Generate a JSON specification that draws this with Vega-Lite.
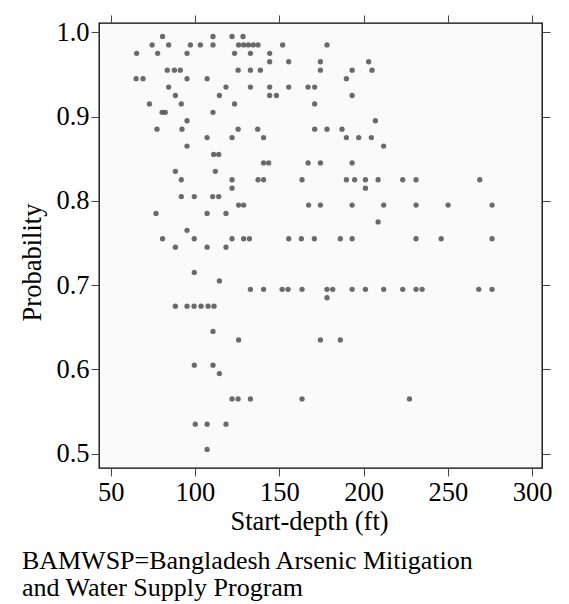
{
  "$schema": "https://vega.github.io/schema/vega-lite/v6.json",
  "width": 443,
  "height": 445,
  "padding": {"left": 19, "top": 14, "right": 10, "bottom": 3},
  "background": "white",
  "title": {
    "text": ["BAMWSP=Bangladesh Arsenic Mitigation", "and Water Supply Program"],
    "orient": "bottom",
    "anchor": "start",
    "frame": "bounds",
    "dx": 2,
    "font": "Liberation Serif",
    "fontSize": 26,
    "fontWeight": "normal",
    "color": "#000",
    "lineHeight": 27,
    "offset": 13
  },
  "data": {
    "values": [
      {"d": 80.8, "p": 0.995}, {"d": 110.7, "p": 0.995}, {"d": 122.0, "p": 0.995}, {"d": 128.5, "p": 0.995},
      {"d": 74.6, "p": 0.985}, {"d": 84.4, "p": 0.985}, {"d": 97.3, "p": 0.985}, {"d": 103.2, "p": 0.985}, {"d": 110.7, "p": 0.985}, {"d": 125.9, "p": 0.985}, {"d": 128.9, "p": 0.985}, {"d": 131.7, "p": 0.985}, {"d": 134.6, "p": 0.985}, {"d": 137.4, "p": 0.985}, {"d": 152.0, "p": 0.985}, {"d": 178.3, "p": 0.985},
      {"d": 65.4, "p": 0.975}, {"d": 77.9, "p": 0.975}, {"d": 95.3, "p": 0.975}, {"d": 123.5, "p": 0.975}, {"d": 132.9, "p": 0.975}, {"d": 144.3, "p": 0.975},
      {"d": 144.3, "p": 0.965}, {"d": 155.6, "p": 0.965}, {"d": 174.4, "p": 0.965}, {"d": 203.0, "p": 0.965},
      {"d": 83.6, "p": 0.955}, {"d": 87.8, "p": 0.955}, {"d": 91.3, "p": 0.955}, {"d": 125.6, "p": 0.955}, {"d": 132.9, "p": 0.955}, {"d": 138.8, "p": 0.955}, {"d": 174.4, "p": 0.955}, {"d": 193.2, "p": 0.955}, {"d": 205.0, "p": 0.955},
      {"d": 65.1, "p": 0.945}, {"d": 69.2, "p": 0.945}, {"d": 95.3, "p": 0.945}, {"d": 107.2, "p": 0.945}, {"d": 189.8, "p": 0.945},
      {"d": 84.4, "p": 0.935}, {"d": 118.4, "p": 0.935}, {"d": 132.9, "p": 0.935}, {"d": 144.3, "p": 0.935}, {"d": 155.6, "p": 0.935}, {"d": 167.1, "p": 0.935}, {"d": 171.0, "p": 0.935},
      {"d": 88.4, "p": 0.925}, {"d": 114.5, "p": 0.925}, {"d": 144.3, "p": 0.925}, {"d": 148.3, "p": 0.925}, {"d": 193.2, "p": 0.925},
      {"d": 73.0, "p": 0.915}, {"d": 91.9, "p": 0.915}, {"d": 123.5, "p": 0.915}, {"d": 171.0, "p": 0.915},
      {"d": 80.5, "p": 0.905}, {"d": 82.4, "p": 0.905}, {"d": 110.7, "p": 0.905},
      {"d": 95.3, "p": 0.895}, {"d": 207.0, "p": 0.895},
      {"d": 77.5, "p": 0.885}, {"d": 92.3, "p": 0.885}, {"d": 125.6, "p": 0.885}, {"d": 137.2, "p": 0.885}, {"d": 171.0, "p": 0.885}, {"d": 178.3, "p": 0.885}, {"d": 187.2, "p": 0.885},
      {"d": 107.2, "p": 0.875}, {"d": 122.0, "p": 0.875}, {"d": 140.7, "p": 0.875}, {"d": 189.8, "p": 0.875}, {"d": 197.1, "p": 0.875}, {"d": 204.6, "p": 0.875},
      {"d": 95.3, "p": 0.865}, {"d": 211.9, "p": 0.865},
      {"d": 111.1, "p": 0.855}, {"d": 114.1, "p": 0.855},
      {"d": 140.7, "p": 0.845}, {"d": 143.7, "p": 0.845}, {"d": 167.1, "p": 0.845}, {"d": 174.4, "p": 0.845}, {"d": 193.2, "p": 0.845},
      {"d": 88.4, "p": 0.835}, {"d": 112.1, "p": 0.835},
      {"d": 91.9, "p": 0.825}, {"d": 122.0, "p": 0.825}, {"d": 137.4, "p": 0.825}, {"d": 140.7, "p": 0.825}, {"d": 163.5, "p": 0.825}, {"d": 189.8, "p": 0.825}, {"d": 194.7, "p": 0.825}, {"d": 201.1, "p": 0.825}, {"d": 208.6, "p": 0.825}, {"d": 223.2, "p": 0.825}, {"d": 231.1, "p": 0.825}, {"d": 268.9, "p": 0.825},
      {"d": 122.0, "p": 0.815}, {"d": 201.1, "p": 0.815},
      {"d": 91.9, "p": 0.805}, {"d": 99.6, "p": 0.805}, {"d": 110.5, "p": 0.805}, {"d": 114.1, "p": 0.805},
      {"d": 125.9, "p": 0.795}, {"d": 128.9, "p": 0.795}, {"d": 167.4, "p": 0.795}, {"d": 174.4, "p": 0.795}, {"d": 193.2, "p": 0.795}, {"d": 211.9, "p": 0.795}, {"d": 231.1, "p": 0.795}, {"d": 250.1, "p": 0.795}, {"d": 276.2, "p": 0.795},
      {"d": 76.9, "p": 0.785}, {"d": 107.2, "p": 0.785}, {"d": 118.4, "p": 0.785},
      {"d": 208.6, "p": 0.775},
      {"d": 95.3, "p": 0.765},
      {"d": 80.8, "p": 0.755}, {"d": 99.6, "p": 0.755}, {"d": 122.0, "p": 0.755}, {"d": 128.9, "p": 0.755}, {"d": 132.3, "p": 0.755}, {"d": 155.6, "p": 0.755}, {"d": 163.1, "p": 0.755}, {"d": 170.8, "p": 0.755}, {"d": 186.2, "p": 0.755}, {"d": 193.2, "p": 0.755}, {"d": 231.1, "p": 0.755}, {"d": 246.0, "p": 0.755}, {"d": 276.2, "p": 0.755},
      {"d": 88.4, "p": 0.745}, {"d": 107.2, "p": 0.745}, {"d": 118.4, "p": 0.745},
      {"d": 99.6, "p": 0.715},
      {"d": 114.5, "p": 0.705},
      {"d": 132.9, "p": 0.695}, {"d": 140.7, "p": 0.695}, {"d": 151.7, "p": 0.695}, {"d": 155.2, "p": 0.695}, {"d": 163.5, "p": 0.695}, {"d": 178.3, "p": 0.695}, {"d": 181.7, "p": 0.695}, {"d": 193.2, "p": 0.695}, {"d": 201.1, "p": 0.695}, {"d": 211.9, "p": 0.695}, {"d": 223.2, "p": 0.695}, {"d": 231.1, "p": 0.695}, {"d": 234.7, "p": 0.695}, {"d": 268.3, "p": 0.695}, {"d": 276.2, "p": 0.695},
      {"d": 178.3, "p": 0.685},
      {"d": 88.4, "p": 0.675}, {"d": 95.3, "p": 0.675}, {"d": 99.5, "p": 0.675}, {"d": 103.6, "p": 0.675}, {"d": 107.8, "p": 0.675}, {"d": 111.3, "p": 0.675},
      {"d": 110.7, "p": 0.645},
      {"d": 125.9, "p": 0.635}, {"d": 174.4, "p": 0.635}, {"d": 186.2, "p": 0.635},
      {"d": 99.6, "p": 0.605}, {"d": 110.7, "p": 0.605},
      {"d": 114.5, "p": 0.595},
      {"d": 122.0, "p": 0.565}, {"d": 125.6, "p": 0.565}, {"d": 132.9, "p": 0.565}, {"d": 163.5, "p": 0.565}, {"d": 227.2, "p": 0.565},
      {"d": 100.2, "p": 0.535}, {"d": 107.2, "p": 0.535}, {"d": 118.4, "p": 0.535},
      {"d": 107.2, "p": 0.505}
    ]
  },
  "layer": [
    {
      "mark": {"type": "circle", "size": 28, "color": "#505050", "opacity": 0.85},
      "encoding": {
        "x": {
          "field": "d", "type": "quantitative",
          "scale": {"domain": [43.1, 305.8], "nice": false, "zero": false},
          "axis": {"orient": "bottom", "title": "Start-depth (ft)", "values": [50, 100, 150, 200, 250, 300], "labelPadding": 3, "titlePadding": 3, "titleX": 210, "titleAlign": "center"}
        },
        "y": {
          "field": "p", "type": "quantitative",
          "scale": {"domain": [0.483, 1.011], "nice": false, "zero": false},
          "axis": {"orient": "left", "title": "Probability", "values": [0.5, 0.6, 0.7, 0.8, 0.9, 1.0], "format": ".1f", "labelPadding": 2, "titlePadding": 9, "titleY": 239, "titleAlign": "center"}
        }
      }
    },
    {
      "mark": {"type": "circle", "size": 28, "opacity": 0},
      "encoding": {
        "x": {
          "field": "d", "type": "quantitative",
          "axis": {"orient": "top", "title": null, "labels": false, "values": [50, 100, 150, 200, 250, 300]}
        },
        "y": {
          "field": "p", "type": "quantitative",
          "axis": {"orient": "right", "title": null, "labels": false, "values": [0.5, 0.6, 0.7, 0.8, 0.9, 1.0]}
        }
      }
    }
  ],
  "resolve": {"axis": {"x": "independent", "y": "independent"}},
  "config": {
    "view": {"fill": "#fafafa", "stroke": "#000", "strokeWidth": 1.3},
    "axis": {
      "labelFont": "Liberation Serif", "titleFont": "Liberation Serif",
      "labelFontSize": 26.5, "titleFontSize": 26.5,
      "labelColor": "#000", "titleColor": "#000", "titleFontWeight": "normal",
      "grid": false, "domain": false,
      "tickColor": "#444", "tickSize": 8, "tickWidth": 1
    }
  }
}
